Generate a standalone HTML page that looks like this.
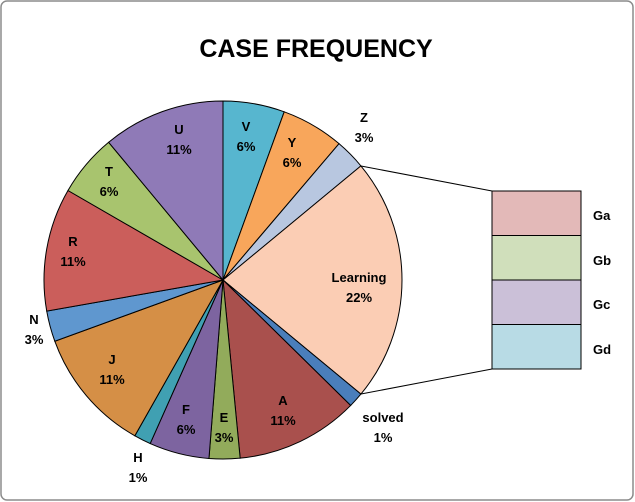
<!DOCTYPE html>
<html><head><meta charset="utf-8"><style>
html,body{margin:0;padding:0;background:#fff;}
svg{display:block;font-family:"Liberation Sans",Arial,sans-serif;}
</style></head><body>
<svg id="s" width="635" height="502" viewBox="0 0 635 502">
<rect x="1" y="1" width="632" height="499" rx="6" fill="#fff" stroke="#8c8c8c" stroke-width="1.5"/>
<text x="316" y="57" text-anchor="middle" font-size="25" font-weight="bold" fill="#000">CASE FREQUENCY</text>
<g id="pie" stroke="#000" stroke-width="1"></g>
<line x1="361" y1="166" x2="492" y2="191" stroke="#000"/>
<line x1="361" y1="394" x2="492" y2="369" stroke="#000"/>
<g stroke="#000" stroke-width="1">
<rect x="492" y="191" width="89" height="44.5" fill="#e3b9b8"/>
<rect x="492" y="235.5" width="89" height="44.5" fill="#d0dfbb"/>
<rect x="492" y="280" width="89" height="44.5" fill="#cbc0d8"/>
<rect x="492" y="324.5" width="89" height="44.5" fill="#b8dbe5"/>
</g>
<g font-size="13" font-weight="bold" fill="#000">
<text x="593" y="220">Ga</text><text x="593" y="265">Gb</text><text x="593" y="309">Gc</text><text x="593" y="354">Gd</text>
</g>
<g font-size="13" font-weight="bold" fill="#000" text-anchor="middle">
<text x="246" y="131">V</text><text x="246" y="151">6%</text>
<text x="292" y="147">Y</text><text x="292" y="167">6%</text>
<text x="364" y="122">Z</text><text x="364" y="142">3%</text>
<text x="359" y="282">Learning</text><text x="359" y="302">22%</text>
<text x="383" y="422">solved</text><text x="383" y="442">1%</text>
<text x="283" y="405">A</text><text x="283" y="425">11%</text>
<text x="224" y="422">E</text><text x="224" y="442">3%</text>
<text x="186" y="414">F</text><text x="186" y="434">6%</text>
<text x="138" y="462">H</text><text x="138" y="482">1%</text>
<text x="112" y="364">J</text><text x="112" y="384">11%</text>
<text x="34" y="324">N</text><text x="34" y="344">3%</text>
<text x="73" y="246">R</text><text x="73" y="266">11%</text>
<text x="109" y="176">T</text><text x="109" y="196">6%</text>
<text x="179" y="134">U</text><text x="179" y="154">11%</text>
</g>
</svg>
<script>
var cx=223,cy=280,r=179;
var sl=[[0,20,"#57b6cf"],[20,40.4,"#f8a65b"],[40.4,50.4,"#b8c7e0"],[50.4,129.6,"#fbcdb4"],[129.6,134.5,"#4a7ebb"],[134.5,174.5,"#a9504d"],[174.5,184.5,"#92ab5b"],[184.5,204,"#7d64a0"],[204,209.5,"#40a0b2"],[209.5,250,"#d58f46"],[250,260,"#5f97cf"],[260,300,"#cb5e5b"],[300,320.3,"#a8c46e"],[320.3,360,"#8f7ab7"]];
function p(a){a=a*Math.PI/180;return [cx+r*Math.sin(a),cy-r*Math.cos(a)];}
var g=document.getElementById("pie"),h="";
sl.forEach(function(s){var a=p(s[0]),b=p(s[1]);var l=(s[1]-s[0])>180?1:0;
h+='<path fill="'+s[2]+'" d="M'+cx+' '+cy+' L'+a[0].toFixed(2)+' '+a[1].toFixed(2)+' A'+r+' '+r+' 0 '+l+' 1 '+b[0].toFixed(2)+' '+b[1].toFixed(2)+' Z"/>';});
g.innerHTML=h;
</script>
</body></html>
